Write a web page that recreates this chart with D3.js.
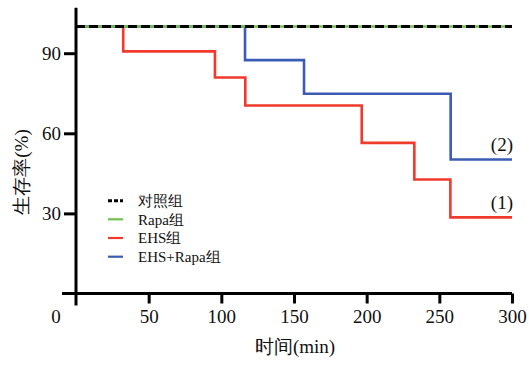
<!DOCTYPE html>
<html>
<head>
<meta charset="utf-8">
<script src="https://cdn.jsdelivr.net/npm/d3@7/dist/d3.min.js"></script>
<style>
  body { margin: 0; background: #fff; }
  svg text { font-family: "Liberation Serif", "Times New Roman", "DejaVu Serif", serif; }
</style>
</head>
<body>
<div id="chart"></div>
<script>
// survival curves
const ctrlTime = [0, 300];
const ctrlSurv = [100, 100];
const rapaTime = [0, 300];
const rapaSurv = [100, 100];
const ehsTime = [0, 32.5, 95.6, 116.5, 196.6, 232.8, 257.6, 300];
const ehsSurv = [100, 90.7, 80.9, 70.4, 56.4, 42.7, 28.5, 28.5];
const bothTime = [0, 116.3, 156.9, 257.8, 300];
const bothSurv = [100, 87.4, 74.8, 50.2, 50.2];

const xTicks = [50, 100, 150, 200, 250, 300];
const yTicks = [30, 60, 90];
const legendNames = ['对照组', 'Rapa组', 'EHS组', 'EHS+Rapa组'];

const width = 529, height = 365;
const red = '#ef3a2c', blue = '#3a5cb4', green = '#6fc24a';

const svg = d3.select('#chart').append('svg')
    .attr('width', width)
    .attr('height', height);

const x = d3.scaleLinear().domain([0, 300]).range([76, 512]);
const y = d3.scaleLinear().domain([0, 100]).range([293.5, 26.5]);

// axes
const xAxis = d3.axisBottom(x).tickValues(xTicks).tickSize(10).tickSizeOuter(0).tickPadding(6);
const yAxis = d3.axisLeft(y).tickValues(yTicks).tickSize(12).tickSizeOuter(0).tickPadding(3);

const gx = svg.append('g')
    .attr('transform', 'translate(0,' + y(0) + ')')
    .call(xAxis);
const gy = svg.append('g')
    .attr('transform', 'translate(' + x(0) + ',0)')
    .call(yAxis);

[gx, gy].forEach(function(g) {
  g.attr('font-family', null).attr('font-size', null);
  g.select('.domain').remove();
  g.selectAll('.tick line').attr('stroke', '#000').attr('stroke-width', 3);
  g.selectAll('.tick text')
      .style('font-size', '19px')
      .attr('fill', '#111');
});

// crossing axis lines
svg.append('line')
    .attr('x1', x(0) - 14).attr('x2', x(300))
    .attr('y1', y(0)).attr('y2', y(0))
    .attr('stroke', '#000').attr('stroke-width', 3);
svg.append('line')
    .attr('x1', x(0)).attr('x2', x(0))
    .attr('y1', y(107)).attr('y2', y(0) + 12)
    .attr('stroke', '#000').attr('stroke-width', 3);

// origin label
svg.append('text')
    .attr('x', x(0) - 20)
    .attr('y', 323)
    .attr('text-anchor', 'middle')
    .style('font-size', '19px')
    .attr('fill', '#111')
    .text('0');

// step lines
const step = d3.line()
    .x(function(d) { return x(d[0]); })
    .y(function(d) { return y(d[1]); })
    .curve(d3.curveStepAfter);

function curve(times, surv, color, w, dash) {
  const path = svg.append('path')
      .datum(d3.zip(times, surv))
      .attr('d', step)
      .attr('fill', 'none')
      .attr('stroke', color)
      .attr('stroke-width', w);
  if (dash) path.attr('stroke-dasharray', dash);
}

curve(ehsTime, ehsSurv, red, 2.6);
curve(bothTime, bothSurv, blue, 2.6);
curve(rapaTime, rapaSurv, green, 2.6);
curve(ctrlTime, ctrlSurv, '#000', 3, '9,4');

// curve labels
svg.append('text')
    .attr('x', 513).attr('y', 151)
    .attr('text-anchor', 'end')
    .style('font-size', '19px')
    .attr('fill', '#111')
    .text('(2)');
svg.append('text')
    .attr('x', 513).attr('y', 209)
    .attr('text-anchor', 'end')
    .style('font-size', '19px')
    .attr('fill', '#111')
    .text('(1)');

// legend
const legendColors = ['#000', green, red, blue];
const legendY = [200.7, 219.3, 238, 256.7];
legendNames.forEach(function(name, i) {
  const ln = svg.append('line')
      .attr('x1', 108).attr('x2', 123)
      .attr('y1', legendY[i]).attr('y2', legendY[i])
      .attr('stroke', legendColors[i])
      .attr('stroke-width', i === 0 ? 3 : 2.2);
  if (i === 0) ln.attr('stroke-dasharray', '4,2');
  svg.append('text')
      .attr('x', 138)
      .attr('y', legendY[i])
      .attr('dy', '0.35em')
      .style('font-size', '15px')
      .attr('fill', '#111')
      .text(name);
});

// axis titles
svg.append('text')
    .attr('x', 295)
    .attr('y', 353)
    .attr('text-anchor', 'middle')
    .style('font-size', '19px')
    .attr('fill', '#111')
    .text('时间(min)');
svg.append('text')
    .attr('transform', 'translate(28,172) rotate(-90)')
    .attr('text-anchor', 'middle')
    .style('font-size', '19px')
    .attr('fill', '#111')
    .text('生存率(%)');
</script>
</body>
</html>
